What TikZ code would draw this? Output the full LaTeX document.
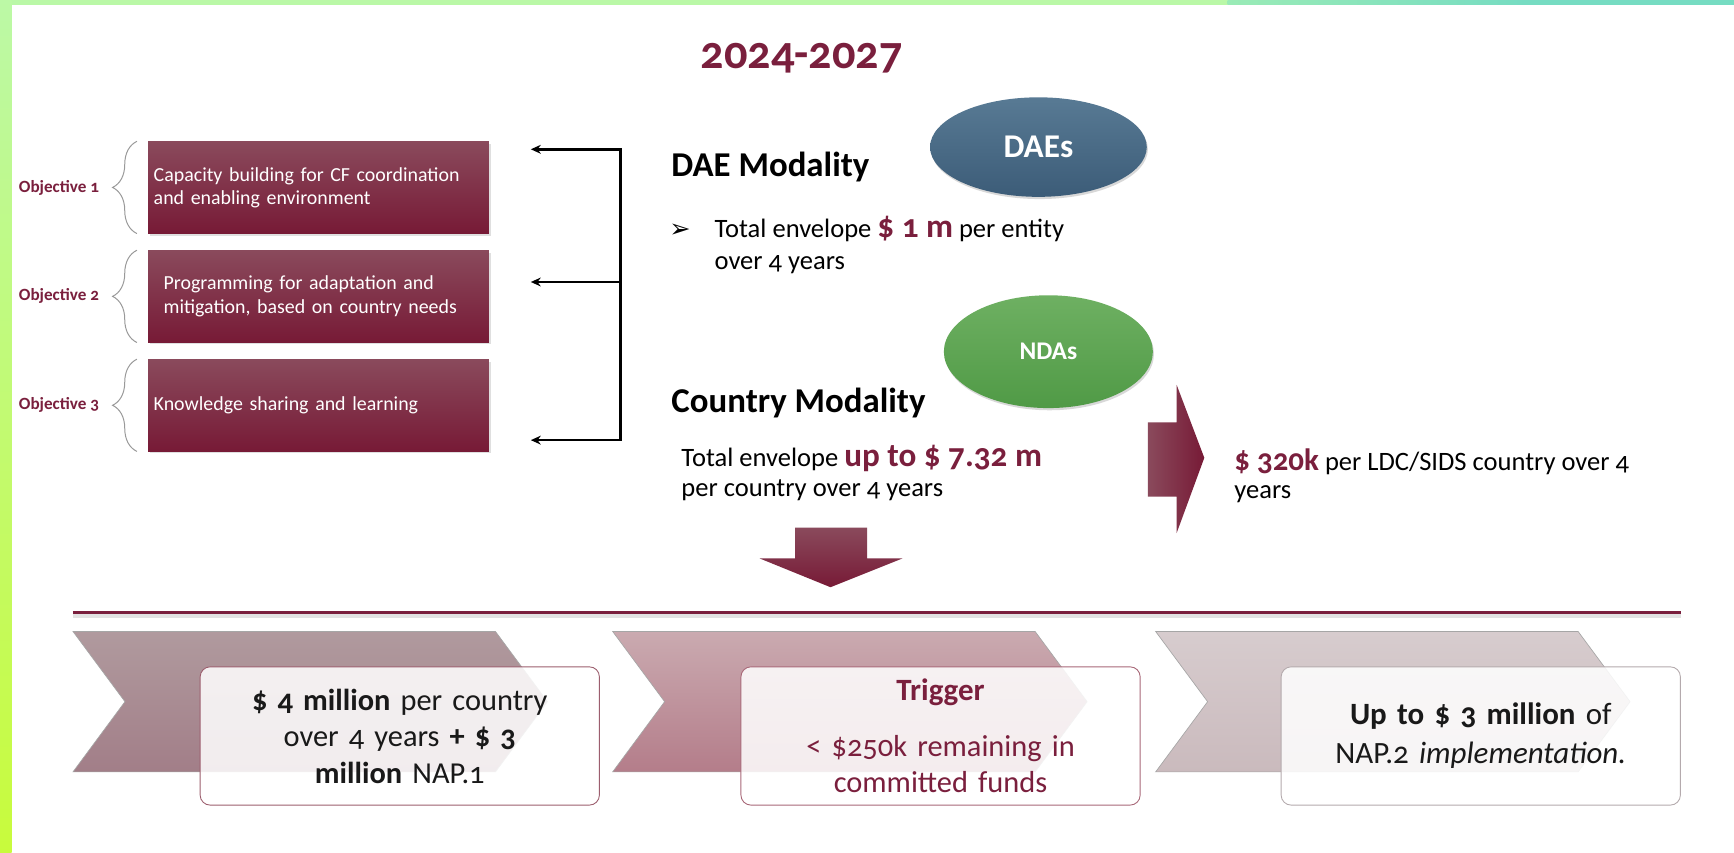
\documentclass[tikz,border=0pt]{standalone}
\usepackage{fontspec}
\setmainfont{Carlito}[Numbers=OldStyle]
\newfontfamily\symfont{DejaVu Sans}
\usepackage{xcolor}
\usetikzlibrary{arrows.meta}
\usetikzlibrary{decorations.pathreplacing}
\usetikzlibrary{shapes.geometric}
\usetikzlibrary{shadows}

\definecolor{maroon}{HTML}{7A1F3D}
\definecolor{boxtop}{HTML}{8A4A5C}
\definecolor{boxbot}{HTML}{771A36}
\definecolor{daetop}{HTML}{587A94}
\definecolor{daebot}{HTML}{3C5C78}
\definecolor{ndatop}{HTML}{6EB062}
\definecolor{ndabot}{HTML}{509A46}
\definecolor{bandL}{HTML}{BAF8A7}
\definecolor{bandM}{HTML}{9AEBB6}
\definecolor{bandR}{HTML}{76DCC2}
\definecolor{sideT}{HTML}{BCF9A6}
\definecolor{sideB}{HTML}{C8FB3C}
\definecolor{chevtop1}{HTML}{B09A9E}
\definecolor{chevbot1}{HTML}{A27E88}
\definecolor{chevtop2}{HTML}{CAAAB0}
\definecolor{chevbot2}{HTML}{B47D8A}
\definecolor{chevtop3}{HTML}{D7CCCE}
\definecolor{chevbot3}{HTML}{CABABD}
\definecolor{cardA}{HTML}{9C5E6E}
\definecolor{cardB}{HTML}{A86878}
\definecolor{cardC}{HTML}{B4AAAD}

\tikzset{
  objbox/.style={rectangle, top color=boxtop, bottom color=boxbot, text=white,
    minimum width=308pt, minimum height=83pt, text width=298pt, inner xsep=5pt,
    inner ysep=0pt, align=left, font=\fontsize{18}{21}\selectfont,
    drop shadow={opacity=0.25, shadow xshift=2pt, shadow yshift=-2pt}},
  objlabel/.style={text=maroon, font=\fontsize{15.5}{18}\selectfont\bfseries, inner sep=0pt},
  objbrace/.style={draw=gray!80, line width=0.9pt, decorate,
    decoration={brace, amplitude=22pt}},
  feed/.style={line width=2.2pt, black},
  modality/.style={font=\fontsize{31.5}{34}\selectfont\bfseries, inner sep=0pt},
  body/.style={font=\fontsize{24}{29}\selectfont, align=left, inner sep=0pt},
  entity/.style={ellipse, text=white, inner sep=0pt,
    drop shadow={opacity=0.3, shadow xshift=1pt, shadow yshift=-2pt}},
  chev/.style={draw=gray!70, line width=0.6pt},
  stepcard/.style={rectangle, rounded corners=9pt, fill=white, fill opacity=0.86,
    text opacity=1, line width=0.8pt, minimum width=361pt, minimum height=125pt,
    text width=345pt, align=center, font=\fontsize{27.5}{33}\selectfont}
}

\newcommand{\money}[1]{{\color{maroon}\bfseries\fontsize{30}{34}\selectfont #1}}

\begin{document}
\begin{tikzpicture}[x=1pt, y=-1pt]
  \useasboundingbox (0,0) rectangle (1568,771);
  \fill[white] (0,0) rectangle (1568,771);
  \fill[bandL] (0,0) rectangle (1110,4.5);
  \shade[left color=bandM, right color=bandR] (1110,0) rectangle (1380,4.5);
  \fill[bandR] (1380,0) rectangle (1568,4.5);
  \shade[top color=sideT, bottom color=sideB] (0,0) rectangle (10.6,771);

  \node[text=maroon, font=\fontsize{42}{48}\selectfont\bfseries, anchor=base] (years) at (725,62) {2024-2027};

  \node[objbox] (box1) at (288,169.5) {Capacity building for CF coordination\\and enabling environment};
  \node[objbox] (box2) at (288,268) {\hspace*{9pt}Programming for adaptation and\\\hspace*{9pt}mitigation, based on country needs};
  \node[objbox] (box3) at (288,366.5) {Knowledge sharing and learning};
  \foreach \b in {box1,box2,box3}
    \draw[objbrace] ([xshift=-10pt]\b.south west) -- ([xshift=-10pt]\b.north west);
  \node[objlabel, anchor=east] (obj1) at ([xshift=-44pt]box1.west) {Objective 1};
  \node[objlabel, anchor=east] (obj2) at ([xshift=-44pt]box2.west) {Objective 2};
  \node[objlabel, anchor=east] (obj3) at ([xshift=-44pt]box3.west) {Objective 3};

  \coordinate (j1) at (561,135);
  \coordinate (j2) at (561,255);
  \coordinate (j3) at (561,398);
  \coordinate (t1) at (480,135);
  \coordinate (t2) at (480,255);
  \coordinate (t3) at (480,398);
  \draw[feed, {Stealth[length=9pt,width=8pt]}-{Stealth[length=9pt,width=8pt]}] (t1) -- (j1) -- (j3) -- (t3);
  \draw[feed, -{Stealth[length=9pt,width=8pt]}] (j2) -- (t2);

  \node[modality, anchor=base west] (daemod) at (607,160) {DAE Modality};
  \node[entity, top color=daetop, bottom color=daebot, minimum width=196pt, minimum height=90pt,
    font=\fontsize{30}{34}\selectfont\bfseries] (daes) at (939,133) {DAEs};
  \node[anchor=base west, inner sep=0pt, font=\fontsize{23}{26}\symfont] (bullet) at (605,215) {➢};
  \node[body, anchor=base west] (daetext) at (646,244) {Total envelope \money{\$ 1 m} per entity\\over 4 years};

  \node[entity, top color=ndatop, bottom color=ndabot, minimum width=189pt, minimum height=102pt,
    font=\fontsize{23}{28}\selectfont\bfseries] (ndas) at (948,318) {NDAs};
  \node[modality, anchor=base west] (ctymod) at (607,373) {Country Modality};
  \node[body, anchor=base west, font=\fontsize{24}{27}\selectfont] (ctytext) at (616,449) {Total envelope \money{up to \$ 7.32 m}\\per country over 4 years};

  \shade[left color=boxtop, right color=boxbot] (1038,382) -- (1064,382) -- (1064,348) -- (1089,414)
    -- (1064,482) -- (1064,449) -- (1038,449) -- cycle;
  \node[body, anchor=base west, font=\fontsize{24}{26}\selectfont] (ldctext) at (1116,451) {{\color{maroon}\bfseries\fontsize{28}{30}\selectfont\$ 320k} per LDC/SIDS country over 4\\years};

  \shade[top color=boxtop, bottom color=boxbot] (719,477) -- (784,477) -- (784,505) -- (816,505)
    -- (751,531) -- (687,505) -- (719,505) -- cycle;

  \coordinate (rl) at (66,554);
  \coordinate (rr) at (1520,554);
  \draw[gray!50, line width=4pt, opacity=0.45] ([yshift=-3pt]rl) -- ([yshift=-3pt]rr);
  \draw[maroon, line width=2.6pt] (rl) -- (rr);

  \foreach \x/\n in {66/1,554/2,1045/3}
    \shade[chev, top color=chevtop\n, bottom color=chevbot\n] (\x,571) -- ++(382,0) -- ++(47,63.5)
      -- ++(-47,63.5) -- ++(-382,0) -- ++(47,-63.5) -- cycle;

  \node[stepcard, draw=cardA, text=black!90] (card1) at (361.5,665.5)
    {{\bfseries \$ 4 million} per country\\over 4 years {\bfseries + \$ 3}\\{\bfseries million} NAP.1};
  \node[stepcard, draw=cardB, text=maroon] (card2) at (850.5,665.5)
    {{\bfseries\fontsize{28}{34}\selectfont Trigger}\\[17pt]< \$250k remaining in\\committed funds};
  \node[stepcard, draw=cardC, text=black!90, font=\fontsize{28}{35}\selectfont] (card3) at (1339,665.5)
    {{\bfseries Up to \$ 3 million} of\\NAP.2 \textit{implementation.}};
\end{tikzpicture}
\end{document}
